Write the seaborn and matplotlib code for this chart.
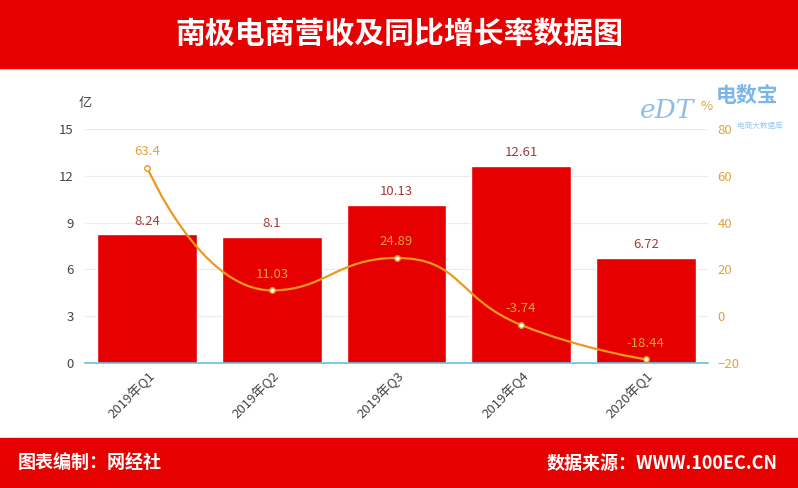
import numpy as np
import pandas as pd
import seaborn as sns
import matplotlib.pyplot as plt
from matplotlib.path import Path
from matplotlib.patches import PathPatch, Rectangle

quarters = ['2019年Q1', '2019年Q2', '2019年Q3', '2019年Q4', '2020年Q1']
revenue = [8.24, 8.1, 10.13, 12.61, 6.72]          # 营收（亿）
growth = [63.4, 11.03, 24.89, -3.74, -18.44]       # 同比增长率（%）
rev_ticks = [0, 3, 6, 9, 12, 15]
growth_ticks = [-20, 0, 20, 40, 60, 80]

RED = '#e60000'
ORANGE = '#eb9a1e'
GOLD = '#e0a33a'


def smooth_path(pts, smooth=0.5):
    # echarts-style smooth line through the points (display coords)
    n = len(pts)
    verts = [pts[0]]
    codes = [Path.MOVETO]
    cp0 = pts[0]
    for i in range(n - 1):
        p, q = pts[i], pts[i + 1]
        if i + 1 < n - 1:
            nxt = pts[i + 2]
            v = nxt - p
            l0 = np.hypot(*(q - p))
            l1 = np.hypot(*(nxt - q))
            r = l1 / (l0 + l1)
            ncp0 = q + v * smooth * r
            ncp0 = np.clip(ncp0, np.minimum(nxt, q), np.maximum(nxt, q))
            cp1 = q - (ncp0 - q) * l0 / l1
            cp1 = np.clip(cp1, np.minimum(p, q), np.maximum(p, q))
            ncp0 = q - (cp1 - q) * l1 / l0
        else:
            cp1 = q
            ncp0 = q
        verts += [cp0, cp1, q]
        codes += [Path.CURVE4] * 3
        cp0 = ncp0
    return np.array(verts), codes


sns.set_theme(style='white')
plt.rcParams['font.family'] = ['Noto Sans CJK SC', 'DejaVu Sans']

df = pd.DataFrame({'季度': quarters, '营收': revenue, '增长率': growth})

fig = plt.figure(figsize=(7.98, 4.88), dpi=100)
fig.patch.set_facecolor('white')

# header / footer bands
fig.patches.append(Rectangle((0, 1 - 68 / 488), 1, 68 / 488, transform=fig.transFigure,
                             color=RED, zorder=0))
fig.patches.append(Rectangle((0, 0), 1, 50 / 488, transform=fig.transFigure,
                             color=RED, zorder=0))
fig.text(0.5, 1 - 34 / 488, '南极电商营收及同比增长率数据图', color='white',
         fontsize=21.5, fontweight='bold', ha='center', va='center')
fig.text(18 / 798, 25 / 488, '图表编制：网经社', color='white', fontsize=13,
         fontweight='bold', ha='left', va='center')
fig.text(778 / 798, 25 / 488, '数据来源：WWW.100EC.CN', color='white', fontsize=13,
         fontweight='bold', ha='right', va='center')

# watermark
fig.text(667 / 798, 1 - 110 / 488, 'eDT', color='#7fb6e8', fontsize=19,
         fontstyle='italic', family=['DejaVu Serif'], ha='center', va='center', alpha=0.9)
fig.text(747 / 798, 1 - 95 / 488, '电数宝', color='#6aaeea', fontsize=15,
         fontweight='bold', ha='center', va='center', alpha=0.9)
fig.text(760 / 798, 1 - 126 / 488, '电商大数据库', color='#8ec0ec', fontsize=5.5,
         ha='center', va='center', alpha=0.9)

ax = fig.add_axes([85 / 798, 125 / 488, 623 / 798, 234 / 488])
sns.barplot(data=df, x='季度', y='营收', color=RED, saturation=1, width=0.8, ax=ax, zorder=2)
ax.set_xlim(-0.5, 4.5)
ax.set_ylim(0, 15)
ax.set_yticks(rev_ticks)
ax.set_xlabel('')
ax.set_ylabel('')
ax.yaxis.grid(True, color='#ebebeb', linewidth=0.8, zorder=0)
ax.set_axisbelow(True)
for s in ['top', 'left', 'right']:
    ax.spines[s].set_visible(False)
ax.spines['bottom'].set_color('#62c3dc')
ax.spines['bottom'].set_linewidth(1.2)
ax.tick_params(axis='y', length=0, pad=8, labelsize=9.5, labelcolor='#444444')
ax.tick_params(axis='x', length=0, pad=4, labelsize=9.5, labelcolor='#444444')
ax.set_xticks(range(len(quarters)))
ax.set_xticklabels(quarters, rotation=45, ha='right', va='top', rotation_mode='anchor')

for i, v in enumerate(revenue):
    ax.annotate(f'{v:g}', (i, v), xytext=(0, 5), textcoords='offset points',
                ha='center', va='bottom', fontsize=9.5, color='#a33a3a')

ax2 = ax.twinx()
ax2.set_ylim(-20, 80)
ax2.set_yticks(growth_ticks)
for s in ['top', 'left', 'right', 'bottom']:
    ax2.spines[s].set_visible(False)
ax2.tick_params(axis='y', length=0, pad=7, labelsize=9.5, labelcolor=GOLD)
ax2.grid(False)

# smooth line in display space, mapped back to data coords
disp = ax2.transData.transform(np.column_stack([np.arange(len(growth)), growth]))
verts, codes = smooth_path(disp)
verts = ax2.transData.inverted().transform(verts)
ax2.add_patch(PathPatch(Path(verts, codes), facecolor='none', edgecolor=ORANGE,
                        linewidth=1.6, zorder=3, clip_on=False))
sns.scatterplot(data=df, x=np.arange(len(growth)), y='增长率', ax=ax2, s=16,
                color='white', edgecolor=ORANGE, linewidth=1.0, zorder=4, clip_on=False)
ax2.set_ylabel('')
ax2.set_xlim(-0.5, 4.5)

for i, v in enumerate(growth):
    ax2.annotate(f'{v:g}', (i, v), xytext=(0, 7), textcoords='offset points',
                 ha='center', va='bottom', fontsize=9.5, color=GOLD)

fig.text(85 / 798, 1 - 104 / 488, '亿', fontsize=9.5, color='#444444', ha='center', va='center')
fig.text(707 / 798, 1 - 106 / 488, '%', fontsize=9.5, color=GOLD, ha='center', va='center')

fig.savefig('out.png', dpi=100)
